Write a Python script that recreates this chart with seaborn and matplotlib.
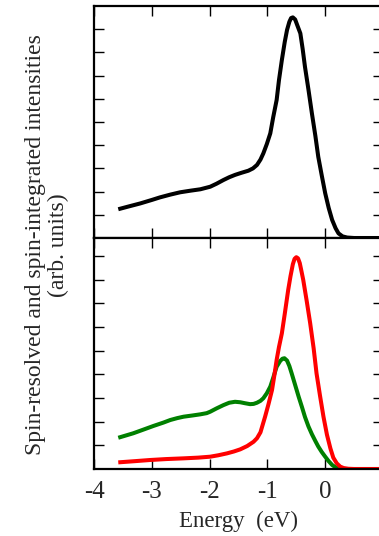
import numpy as np
import pandas as pd
import matplotlib
matplotlib.use("Agg")
import matplotlib.pyplot as plt
import seaborn as sns

# spin-integrated spectrum (top panel)
energy_total = [-3.58, -3.40, -3.20, -3.00, -2.86, -2.68, -2.51, -2.33, -2.16, -1.99,
                -1.88, -1.76, -1.66, -1.56, -1.45, -1.33, -1.25, -1.18, -1.12, -1.07,
                -1.01, -0.95, -0.90, -0.84, -0.80, -0.75, -0.70, -0.66, -0.62, -0.59,
                -0.56, -0.52, -0.48, -0.43, -0.39, -0.35, -0.29, -0.23, -0.17, -0.12,
                -0.06, 0.00, 0.06, 0.12, 0.18, 0.23, 0.30, 0.38, 0.50, 1.00]
intensity_total = [1.24, 1.36, 1.49, 1.64, 1.75, 1.87, 1.97, 2.04, 2.10, 2.21,
                   2.34, 2.50, 2.62, 2.72, 2.81, 2.90, 3.00, 3.15, 3.38, 3.65,
                   4.05, 4.51, 5.20, 5.95, 6.80, 7.67, 8.45, 8.97, 9.32, 9.48,
                   9.51, 9.42, 9.15, 8.82, 8.15, 7.38, 6.40, 5.37, 4.40, 3.50,
                   2.70, 1.93, 1.30, 0.78, 0.42, 0.20, 0.07, 0.02, 0.0, 0.0]

# spin-resolved spectra (bottom panel)
energy_green = [-3.58, -3.32, -3.15, -2.97, -2.80, -2.68, -2.56, -2.45, -2.30, -2.16,
                -2.05, -1.99, -1.88, -1.76, -1.66, -1.56, -1.47, -1.39, -1.30, -1.24,
                -1.18, -1.12, -1.07, -1.01, -0.95, -0.90, -0.84, -0.78, -0.74, -0.705,
                -0.66, -0.62, -0.58, -0.52, -0.46, -0.40, -0.35, -0.29, -0.23, -0.17,
                -0.12, -0.06, 0.00, 0.06, 0.12, 0.18, 0.25, 0.35, 1.00]
intensity_green = [1.32, 1.51, 1.66, 1.82, 1.96, 2.07, 2.15, 2.21, 2.26, 2.31,
                   2.36, 2.42, 2.56, 2.70, 2.80, 2.84, 2.82, 2.78, 2.74, 2.75,
                   2.80, 2.88, 2.99, 3.20, 3.48, 3.85, 4.32, 4.56, 4.66, 4.68,
                   4.58, 4.35, 4.04, 3.55, 3.06, 2.60, 2.20, 1.80, 1.47, 1.18,
                   0.95, 0.72, 0.52, 0.33, 0.17, 0.07, 0.02, 0.0, 0.0]

energy_red = [-3.58, -3.30, -3.03, -2.75, -2.45, -2.20, -1.99, -1.85, -1.70, -1.58,
              -1.47, -1.35, -1.24, -1.18, -1.12, -1.04, -0.98, -0.92, -0.88, -0.84,
              -0.80, -0.75, -0.70, -0.64, -0.60, -0.56, -0.53, -0.50, -0.47, -0.44,
              -0.41, -0.38, -0.32, -0.26, -0.20, -0.15, -0.09, -0.03, 0.03, 0.09,
              0.14, 0.20, 0.26, 0.32, 0.40, 0.50, 1.00]
intensity_red = [0.28, 0.33, 0.38, 0.42, 0.45, 0.48, 0.52, 0.58, 0.66, 0.74,
                 0.83, 0.97, 1.15, 1.30, 1.55, 2.21, 2.75, 3.34, 3.95, 4.61,
                 5.15, 5.73, 6.55, 7.57, 8.15, 8.65, 8.88, 8.95, 8.90, 8.70,
                 8.35, 7.99, 7.10, 6.16, 5.10, 4.04, 3.10, 2.21, 1.45, 0.87,
                 0.48, 0.24, 0.10, 0.04, 0.01, 0.0, 0.0]

xtick_values = [-4, -3, -2, -1, 0, 1]
xtick_text = ["-4", "-3", "-2", "-1", "0", ""]

sns.set_theme(style="ticks")
plt.rcParams['font.family'] = ['Liberation Serif', 'DejaVu Serif']
plt.rcParams['axes.unicode_minus'] = False

fig = plt.figure(figsize=(3.79, 5.36), dpi=100)
ax_top = fig.add_axes([94 / 379, 1 - 238 / 536, 289 / 379, 232 / 536])
ax_bot = fig.add_axes([94 / 379, 1 - 469 / 536, 289 / 379, 231 / 536])

top_df = pd.DataFrame({"energy": energy_total, "intensity": intensity_total})
green_df = pd.DataFrame({"energy": energy_green, "intensity": intensity_green})
red_df = pd.DataFrame({"energy": energy_red, "intensity": intensity_red})

line_kw = dict(lw=2.9, sort=False, solid_joinstyle="round", solid_capstyle="butt")
sns.lineplot(data=top_df, x="energy", y="intensity", ax=ax_top, color="black", **line_kw)
sns.lineplot(data=green_df, x="energy", y="intensity", ax=ax_bot, color="#008000", **line_kw)
sns.lineplot(data=red_df, x="energy", y="intensity", ax=ax_bot, color="#ff0000", **line_kw)

for ax, ytop in ((ax_top, 10), (ax_bot, 9.76)):
    ax.set_xlim(-4, 1)
    ax.set_ylim(0, ytop)
    ax.set_xticks(xtick_values)
    ax.set_yticks(range(1, 10))
    ax.set_yticklabels([])
    ax.set_xlabel("")
    ax.set_ylabel("")
    ax.tick_params(direction="in", top=True, right=True, length=7, width=1.0,
                   color="black")
    for s in ax.spines.values():
        s.set_linewidth(1.6)
        s.set_color("black")

ax_top.set_xticklabels([])
ax_bot.set_xticklabels(xtick_text, fontsize=18)
ax_bot.tick_params(axis="x", pad=9)
ax_bot.set_xlabel("Energy  (eV)", fontsize=16.5, labelpad=5)

fig.text(47 / 379, 1 - 245 / 536,
         "Spin-resolved and spin-integrated intensities\n(arb. units)",
         rotation=90, ha="center", va="center", fontsize=17,
         multialignment="center", linespacing=1.15)

fig.savefig("out.png", dpi=100)
